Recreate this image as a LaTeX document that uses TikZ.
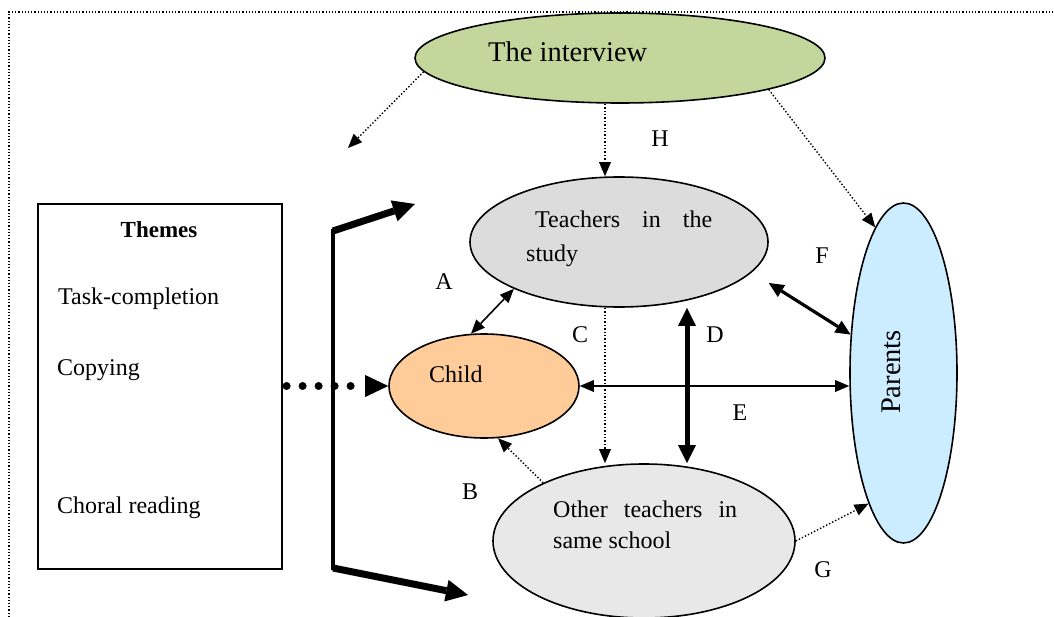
\documentclass[tikz,border=0pt]{standalone}
\usepackage{fontspec}
\setmainfont{Liberation Serif}
\usetikzlibrary{arrows.meta,shapes.geometric,calc}

\definecolor{ivgreen}{HTML}{C3D69B}
\definecolor{studygray}{HTML}{DCDCDC}
\definecolor{childorange}{HTML}{FFCC99}
\definecolor{othergray}{HTML}{E8E8E8}
\definecolor{parentblue}{HTML}{CCECFF}

\begin{document}
\begin{tikzpicture}[x=1pt,y=-1pt,
  bubble/.style={ellipse, draw, line width=1.6pt, inner sep=0pt},
  txt/.style={inner sep=0pt, font=\fontsize{24}{28}\selectfont},
  bigtxt/.style={inner sep=0pt, font=\fontsize{28.5}{32}\selectfont},
  dotlink/.style={line width=1.4pt, dotted,
    -{Triangle[length=14pt,width=12pt,line width=0pt]}},
  thinboth/.style={line width=1.6pt,
    {Triangle[length=14pt,width=12pt,line width=0pt]}-{Triangle[length=14pt,width=12pt,line width=0pt]}},
  medboth/.style={line width=3.2pt,
    {Triangle[length=15pt,width=14pt,line width=0pt]}-{Triangle[length=15pt,width=14pt,line width=0pt]}},
  boldboth/.style={line width=5pt,
    {Triangle[length=18pt,width=18pt,line width=0pt]}-{Triangle[length=18pt,width=18pt,line width=0pt]}},
  boldarrow/.style={line width=7pt,
    -{Triangle[length=22pt,width=22pt,line width=0pt]}},
]
\useasboundingbox (0,0) rectangle (1054,617);

% outer dotted frame
\draw[line width=1.2pt, dotted] (9,617) -- (9,12) -- (1054,12);

% main bubbles
\node[bubble, fill=ivgreen, minimum width=410pt, minimum height=90pt] (iv) at (620,58) {};
\node[bubble, fill=studygray, minimum width=298pt, minimum height=130pt] (teach) at (619,242) {};
\node[bubble, fill=childorange, minimum width=190pt, minimum height=104pt] (child) at (484,386) {};
\node[bubble, fill=othergray, minimum width=302pt, minimum height=154pt] (other) at (644,541) {};
\node[bubble, fill=parentblue, minimum width=107pt, minimum height=340pt] (par) at (903.5,373) {};

% themes box
\node[draw, line width=1.6pt, minimum width=244pt, minimum height=365pt,
      inner sep=0pt, anchor=north west] (themes) at (37,203) {};

% texts
\node[bigtxt, anchor=base west] (ivt) at (488,62) {The interview};
\node[txt, anchor=base west] (tt1) at (535,228) {\makebox[177pt][s]{Teachers in the}};
\node[txt, anchor=base west] (tt2) at (526,262) {study};
\node[txt, anchor=base west] (ct) at (429,382) {Child};
\node[txt, anchor=base west] (ot1) at (553,517) {\makebox[184pt][s]{Other teachers in}};
\node[txt, anchor=base west] (ot2) at (553,548) {same school};
\node[bigtxt, rotate=90, anchor=base] (pt) at (900,372) {Parents};

\node[txt, anchor=base, font=\fontsize{23}{27}\selectfont\bfseries] (thm) at (159,238) {Themes};
\node[txt, anchor=base west] (th1) at (58,305) {Task-completion};
\node[txt, anchor=base west] (th2) at (57,375) {Copying};
\node[txt, anchor=base west] (th3) at (57,513) {Choral reading};

% letter labels
\node[txt, anchor=base] (lH) at (660,147) {H};
\node[txt, anchor=base] (lA) at (444,290) {A};
\node[txt, anchor=base] (lC) at (580,342) {C};
\node[txt, anchor=base] (lD) at (715,342) {D};
\node[txt, anchor=base] (lE) at (740,420) {E};
\node[txt, anchor=base] (lF) at (822,264) {F};
\node[txt, anchor=base] (lB) at (470,499) {B};
\node[txt, anchor=base] (lG) at (823,577) {G};

% helper coordinates
\coordinate (xH) at (605,0);
\coordinate (xD) at (687,0);
\coordinate (loose) at (348,148);
\coordinate (bendT) at (333,231);
\coordinate (bendB) at (333,568);
\coordinate (tipT) at (415,204);
\coordinate (tipB) at (468,595);

% links from the interview
\draw[dotlink] (iv.184) -- (loose);
\draw[dotlink] (iv.south -| xH) -- (teach.north -| xH);
\draw[dotlink] (iv.348) -- (par.101);

% links between people
\draw[thinboth] (teach.204) -- (child.104);
\draw[dotlink] (teach.south -| xH) -- (other.north -| xH);
\draw[boldboth] (teach.south -| xD) -- (other.north -| xD);
\draw[thinboth] (child.east) -- (child.east -| par.west);
\draw[medboth] ($(teach.east)+(0,41)$) -- (par.144);
\draw[dotlink] (other.150) -- (child.285);
\draw[dotlink] (other.east) -- (par.255);

% themes feeding the picture
\draw[line width=8pt, line cap=round, dash pattern=on 0pt off 16pt, shorten <=4pt,
      -{Triangle[length=23pt,width=22pt,line width=0pt]}]
  (themes.east |- child.west) -- (child.west);
\draw[line width=4.5pt] (333,229) -- (333,570);
\draw[boldarrow] (bendT) -- (tipT);
\draw[boldarrow] (bendB) -- (tipB);
\end{tikzpicture}
\end{document}
